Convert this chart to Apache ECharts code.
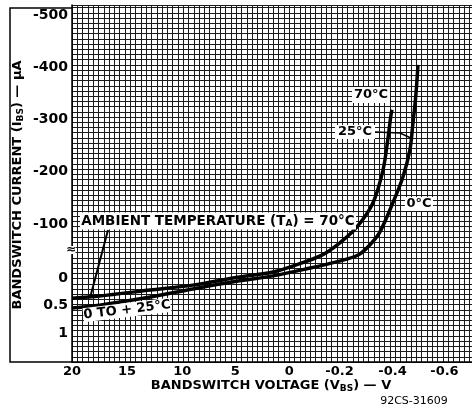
<!DOCTYPE html>
<html>
<head>
<meta charset="utf-8">
<script src="https://cdn.jsdelivr.net/npm/echarts@6/dist/echarts.min.js"></script>
<style>
  html, body { margin: 0; padding: 0; background: #fff; }
  #chart { width: 472px; height: 409px; }
</style>
</head>
<body>
<div id="chart"></div>
<script>
// axis ticks in real units, and where each one sits along its axis (in major divisions)
const xTicks = [20, 15, 10, 5, 0, -0.2, -0.4, -0.6]
const xTickPos = [0, 1.04, 2.08, 3.08, 4.1, 5.05, 6.05, 7.03]
const xTickLabels = ['20', '15', '10', '5', '0', '-0.2', '-0.4', '-0.6']
const yTicks = [1, 0.5, 0, -100, -200, -300, -400, -500]
const yTickPos = [0.55, 1.08, 1.6, 2.65, 3.65, 4.65, 5.65, 6.65]
const yTickLabels = ['1', '0.5', '0', '-100', '-200', '-300', '-400', '-500']

// T_A = 70°C : bandswitch voltage (V) / current
const volts70 = [20, 17.5, 12.9, 9, 4.6, 1.5, -0.04, -0.13, -0.2, -0.265, -0.326, -0.364, -0.382, -0.394, -0.398]
const amps70 = [0.36, 0.32, 0.21, 0.12, -3, -12, -27, -43, -65, -94, -140, -203, -261, -309, -319]

// T_A = 0 to +25°C
const volts25 = [20, 17.5, 12.9, 9, 4.6, 1.5, -0.07, -0.2, -0.27, -0.315, -0.352, -0.401, -0.44, -0.467, -0.478, -0.49, -0.498]
const amps25 = [0.54, 0.49, 0.34, 0.19, 0.04, -5, -18, -32, -43, -62, -85, -140, -190, -242, -290, -348, -405]

const FONT = 'DejaVu Sans'

// the paper uses a broken scale: map a real value to its spot on the axis
function toAxis(ticks, pos, v) {
  for (let k = 0; k < ticks.length - 1; k++) {
    const a = ticks[k], b = ticks[k + 1]
    if (v >= b || k === ticks.length - 2) {
      return pos[k] + (pos[k + 1] - pos[k]) * (a - v) / (a - b)
    }
  }
}

function nearestLabel(pos, labels, val) {
  let best = 0
  pos.forEach((p, i) => { if (Math.abs(p - val) < Math.abs(pos[best] - val)) best = i })
  return labels[best]
}

const toPoints = (vs, is) => vs.map((v, i) => [toAxis(xTicks, xTickPos, v), toAxis(yTicks, yTickPos, is[i])])

const chart = echarts.init(document.getElementById('chart'))

const curveStyle = { color: '#000', width: 3.5 }

const subRich = { s: { fontSize: 9, fontWeight: 'bold', fontFamily: FONT, verticalAlign: 'bottom', padding: [6, 0, 0, 0] } }

// white box with text on it
const tag = (x, y, w, h, text, size, opts = {}) => ({
  type: 'group', x, y, rotation: opts.rotation || 0,
  children: [
    { type: 'rect', z: 100, shape: { x: -w / 2, y: -h / 2, width: w, height: h }, style: { fill: '#fff' } },
    { type: 'text', z: 101, style: { x: 0, y: 0, text, align: 'center', verticalAlign: 'middle', fill: '#000',
        font: 'bold ' + size + 'px ' + FONT, rich: subRich } }
  ]
})

chart.setOption({
  animation: false,
  backgroundColor: '#fff',
  grid: { left: 72, right: 0, top: 5, bottom: 47 },
  xAxis: {
    type: 'value', min: 0, max: 7.55, interval: 0.1,
    axisLine: { show: true, lineStyle: { color: '#000', width: 1.5 } },
    axisTick: { show: false },
    axisLabel: {
      customValues: xTickPos, margin: 3, color: '#000', fontSize: 13, fontWeight: 'bold', fontFamily: FONT,
      formatter: v => nearestLabel(xTickPos, xTickLabels, v)
    },
    splitLine: { show: true, lineStyle: { color: '#1a1a1a', width: 1 } }
  },
  yAxis: {
    type: 'value', min: 0, max: 6.85, interval: 0.1,
    axisLine: { show: true, lineStyle: { color: '#000', width: 1.5 } },
    axisTick: { show: false },
    axisLabel: {
      customValues: yTickPos, margin: 4, color: '#000', fontSize: 14, fontWeight: 'bold', fontFamily: FONT,
      formatter: v => nearestLabel(yTickPos, yTickLabels, v)
    },
    splitLine: { show: true, lineStyle: { color: '#1a1a1a', width: 1 } }
  },
  series: [
    { name: '70°C', type: 'line', smooth: 0.3, symbol: 'none', lineStyle: curveStyle, data: toPoints(volts70, amps70), z: 5 },
    { name: '0 to 25°C', type: 'line', smooth: 0.3, symbol: 'none', lineStyle: curveStyle, data: toPoints(volts25, amps25), z: 5 }
  ],
  graphic: [
    // frame round the y title
    { type: 'polyline', shape: { points: [[72, 8], [10, 8], [10, 362], [72, 362]] }, style: { stroke: '#000', lineWidth: 1.5, fill: null } },
    { type: 'text', x: 18, y: 185, rotation: Math.PI / 2, style: {
        text: 'BANDSWITCH CURRENT (I{s|BS}) — µA', align: 'center', verticalAlign: 'middle',
        fill: '#000', font: 'bold 13px ' + FONT, rich: subRich } },
    { type: 'text', x: 271, y: 386, style: {
        text: 'BANDSWITCH VOLTAGE (V{s|BS}) — V', align: 'center', verticalAlign: 'middle',
        fill: '#000', font: 'bold 13px ' + FONT, rich: subRich } },
    { type: 'text', x: 414, y: 401, style: { text: '92CS-31609', align: 'center', verticalAlign: 'middle', fill: '#000', font: '11px ' + FONT } },
    // break mark on the current axis
    tag(71, 250, 9, 8, '≈', 12),
    // annotations
    { type: 'polyline', z: 99, shape: { points: [[90, 298], [108, 230]] }, style: { stroke: '#000', lineWidth: 2 } },
    tag(218, 221, 276, 17, 'AMBIENT TEMPERATURE (T{s|A}) = 70°C', 13.5),
    tag(127, 310, 88, 14, '0 TO + 25°C', 13, { rotation: 0.12 }),
    tag(371, 95, 38, 16, '70°C', 13),
    { type: 'polyline', z: 99, shape: { points: [[375, 132], [400, 133], [413, 139]] }, style: { stroke: '#000', lineWidth: 1.5 } },
    tag(355, 132, 40, 14, '25°C', 13),
    tag(419, 204, 28, 14, '0°C', 13)
  ]
})
</script>
</body>
</html>
